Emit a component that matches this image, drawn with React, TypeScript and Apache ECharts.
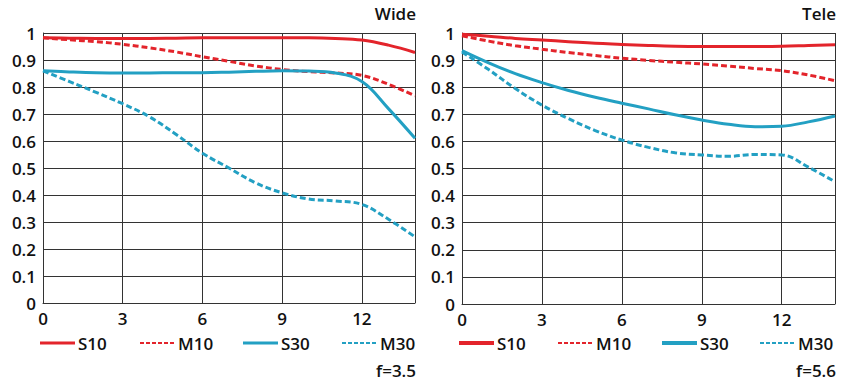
import React, { useEffect, useRef } from "react";
import * as echarts from "echarts";

const xValues = [0, 1, 2, 3, 4, 5, 6, 7, 8, 9, 10, 11, 12, 13, 14];
const xTicks = [0, 3, 6, 9, 12];

const wideS10 = [0.982, 0.981, 0.98, 0.98, 0.98, 0.981, 0.982, 0.982, 0.982, 0.982, 0.982, 0.98, 0.974, 0.955, 0.928];
const wideM10 = [0.982, 0.975, 0.968, 0.958, 0.945, 0.93, 0.912, 0.895, 0.878, 0.865, 0.857, 0.852, 0.843, 0.81, 0.767];
const wideS30 = [0.86, 0.856, 0.853, 0.852, 0.852, 0.853, 0.853, 0.855, 0.858, 0.86, 0.859, 0.852, 0.82, 0.72, 0.61];
const wideM30 = [0.86, 0.82, 0.78, 0.738, 0.69, 0.625, 0.555, 0.5, 0.445, 0.408, 0.385, 0.378, 0.365, 0.31, 0.245];

const teleS10 = [0.995, 0.988, 0.98, 0.974, 0.968, 0.962, 0.958, 0.954, 0.951, 0.95, 0.95, 0.95, 0.951, 0.954, 0.957];
const teleM10 = [0.99, 0.97, 0.953, 0.94, 0.928, 0.917, 0.907, 0.899, 0.892, 0.886, 0.878, 0.869, 0.861, 0.845, 0.824];
const teleS30 = [0.935, 0.89, 0.85, 0.817, 0.788, 0.763, 0.741, 0.72, 0.698, 0.679, 0.663, 0.654, 0.656, 0.672, 0.694];
const teleM30 = [0.93, 0.865, 0.795, 0.734, 0.684, 0.64, 0.605, 0.578, 0.558, 0.55, 0.545, 0.552, 0.55, 0.505, 0.451];

const seriesNames = ["S10", "M10", "S30", "M30"];
const panelTitles = ["Wide", "Tele"];
const apertures = ["f=3.5", "f=5.6"];

const RED = "#e3242b";
const BLUE = "#23a0c3";
const FONT = "'Open Sans', 'Noto Sans', sans-serif";
const FS = 17;
const FW = 600;

export default function App() {
  const ref = useRef<HTMLDivElement>(null);
  useEffect(() => {
    const chart = echarts.init(ref.current!, undefined, { renderer: "svg" });
    const pair = (ys: number[]) => xValues.map((x, i) => [x, ys[i]]);
    const panels = [
      [wideS10, wideM10, wideS30, wideM30],
      [teleS10, teleM10, teleS30, teleM30],
    ];
    const colors = [RED, RED, BLUE, BLUE];
    const dashed = [false, true, false, true];

    const grids = [
      { left: 43, top: 33, width: 372, height: 270 },
      { left: 462, top: 33, width: 373, height: 271 },
    ];
    const xAxes = grids.map((_, gi) => ({
      type: "value",
      gridIndex: gi,
      min: 0,
      max: 14,
      interval: 3,
      axisLine: { show: true, lineStyle: { color: "#333", width: 1 } },
      axisTick: { show: false },
      splitLine: { show: true, lineStyle: { color: "#333", width: 1 } },
      axisLabel: {
        margin: 7,
        fontFamily: FONT,
        fontSize: FS,
        fontWeight: FW,
        color: "#111",
        showMaxLabel: false,
        formatter: (v: number) => (xTicks.includes(v) ? String(v) : ""),
      },
    }));
    const yAxes = grids.map((_, gi) => ({
      type: "value",
      gridIndex: gi,
      min: 0,
      max: 1,
      interval: 0.1,
      axisLine: { show: true, lineStyle: { color: "#333", width: 1 } },
      axisTick: { show: false },
      splitLine: { show: true, lineStyle: { color: "#333", width: 1 } },
      axisLabel: {
        margin: 7,
        fontFamily: FONT,
        fontSize: FS,
        fontWeight: FW,
        color: "#111",
        formatter: (v: number) => String(Math.round(v * 10) / 10),
      },
    }));

    const series: any[] = [];
    panels.forEach((p, gi) => {
      p.forEach((ys, si) => {
        series.push({
          name: seriesNames[si],
          type: "line",
          xAxisIndex: gi,
          yAxisIndex: gi,
          data: pair(ys),
          smooth: 0.4,
          showSymbol: false,
          symbol: "none",
          lineStyle: {
            color: colors[si],
            width: 3,
            type: dashed[si] ? [6, 3] : "solid",
          },
          z: 3 + si,
        });
      });
    });

    const graphics: any[] = [];
    const legendPos = [
      [40, 140, 243, 342],
      [459, 558, 662, 760],
    ];
    grids.forEach((g, gi) => {
      const right = g.left + g.width;
      graphics.push({
        type: "text",
        right: 853 - right - 1,
        top: 5,
        style: { text: panelTitles[gi], fontFamily: FONT, fontSize: FS, fill: "#111", fontWeight: FW },
      });
      graphics.push({
        type: "text",
        right: 853 - right - 1,
        top: 362,
        style: { text: apertures[gi], fontFamily: FONT, fontSize: FS, fontWeight: FW, fill: "#111" },
      });
      seriesNames.forEach((name, si) => {
        const x0 = legendPos[gi][si];
        graphics.push({
          type: "line",
          shape: { x1: x0, y1: 343, x2: x0 + 35, y2: 343 },
          style: {
            stroke: colors[si],
            lineWidth: dashed[si] ? 2 : gi === 1 ? 4 : 3,
            lineDash: dashed[si] ? [4, 2] : null,
          },
        });
        graphics.push({
          type: "text",
          x: x0 + 38,
          y: 343,
          style: {
            text: name,
            fontFamily: FONT,
            fontSize: FS,
            fontWeight: FW,
            fill: "#111",
            verticalAlign: "middle",
          },
        });
      });
    });

    chart.setOption({
      animation: false,
      backgroundColor: "#fff",
      grid: grids,
      xAxis: xAxes,
      yAxis: yAxes,
      series,
      graphic: graphics,
    });
    return () => chart.dispose();
  }, []);
  return <div ref={ref} style={{ width: 853, height: 391, position: "absolute", left: 0, top: 0 }} />;
}
